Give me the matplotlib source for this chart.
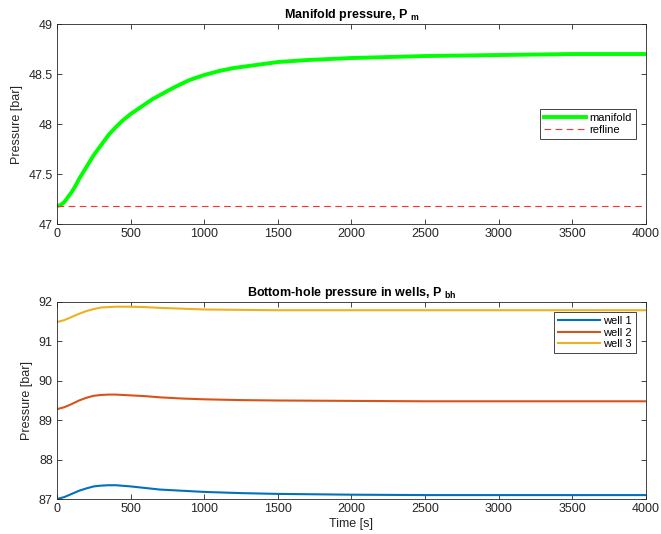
import numpy as np
import matplotlib.pyplot as plt

plt.rcParams['font.family'] = ['Liberation Sans', 'DejaVu Sans']
plt.rcParams['mathtext.fontset'] = 'custom'
plt.rcParams['mathtext.bf'] = 'Liberation Sans:bold'
plt.rcParams['mathtext.rm'] = 'Liberation Sans:bold'

# simulated manifold pressure [bar]
t_man = [0, 25, 50, 75, 100, 125, 150, 175, 200, 250, 300, 350, 400, 450, 500,
         550, 600, 650, 700, 800, 900, 1000, 1100, 1200, 1300, 1400, 1500,
         1700, 2000, 2500, 3000, 3500, 4000]
p_man = [47.18, 47.19, 47.22, 47.27, 47.32, 47.38, 47.45, 47.51, 47.57, 47.69,
         47.79, 47.89, 47.97, 48.04, 48.10, 48.15, 48.20, 48.25, 48.29, 48.37,
         48.44, 48.49, 48.53, 48.56, 48.58, 48.60, 48.62, 48.64, 48.66, 48.68,
         48.69, 48.70, 48.70]
p_ref = 47.18

# bottom-hole pressure per well [bar]
t_bh = [0, 50, 100, 150, 200, 250, 300, 350, 400, 500, 600, 700, 850, 1000,
        1250, 1500, 2000, 2500, 3000, 3500, 4000]
p_well1 = [87.00, 87.05, 87.13, 87.21, 87.27, 87.32, 87.34, 87.35, 87.35, 87.32,
           87.28, 87.24, 87.21, 87.18, 87.15, 87.13, 87.11, 87.10, 87.10, 87.10, 87.10]
p_well2 = [89.28, 89.33, 89.41, 89.50, 89.57, 89.62, 89.64, 89.65, 89.65, 89.63,
           89.61, 89.58, 89.55, 89.53, 89.51, 89.50, 89.49, 89.48, 89.48, 89.48, 89.48]
p_well3 = [91.49, 91.54, 91.62, 91.70, 91.77, 91.82, 91.86, 91.87, 91.88, 91.88,
           91.87, 91.85, 91.83, 91.81, 91.80, 91.79, 91.79, 91.79, 91.79, 91.79, 91.79]
well_names = ['well 1', 'well 2', 'well 3']
well_colors = ['#0072BD', '#D95319', '#EDB120']

axis_col = '#262626'
fs = 9


def style_axes(ax):
    ax.tick_params(direction='in', top=True, right=True, labelsize=fs,
                   colors=axis_col, length=3.5, width=0.6, pad=3)
    for s in ax.spines.values():
        s.set_color(axis_col)
        s.set_linewidth(0.6)
    ax.set_xlim(0, 4000)
    ax.set_xticks(np.arange(0, 4001, 500))


def style_legend(leg):
    leg.get_frame().set_edgecolor(axis_col)
    leg.get_frame().set_linewidth(0.6)


fig = plt.figure(figsize=(6.61, 5.34), dpi=100)

ax1 = fig.add_axes([0.0862, 0.5805, 0.891, 0.3745])
ax1.plot(t_man, p_man, color='#00FF00', lw=2.8, label='manifold')
ax1.plot([0, 4000], [p_ref, p_ref], '--', color='#FF3030', lw=0.8,
         dashes=(6, 4), label='refline')
style_axes(ax1)
ax1.set_ylim(47, 49)
ax1.set_yticks([47, 47.5, 48, 48.5, 49])
ax1.set_yticklabels(['47', '47.5', '48', '48.5', '49'])
ax1.set_ylabel('Pressure [bar]', fontsize=fs, color=axis_col, labelpad=4)
ax1.set_title(r'Manifold pressure, P $_{\mathbf{m}}$', fontsize=fs,
              fontweight='bold', pad=4)
leg1 = ax1.legend(loc='center right', fontsize=8, handlelength=3.8,
                  handletextpad=0.3, borderaxespad=0.9, fancybox=False,
                  borderpad=0.35, labelspacing=0.15, framealpha=1)
style_legend(leg1)

ax2 = fig.add_axes([0.0862, 0.0655, 0.891, 0.369])
for p, name, c in zip([p_well1, p_well2, p_well3], well_names, well_colors):
    ax2.plot(t_bh, p, color=c, lw=1.5, label=name)
style_axes(ax2)
ax2.set_ylim(87, 92)
ax2.set_yticks(np.arange(87, 93, 1))
ax2.set_ylabel('Pressure [bar]', fontsize=fs, color=axis_col, labelpad=4)
ax2.set_xlabel('Time [s]', fontsize=fs, color=axis_col, labelpad=2)
ax2.set_title(r'Bottom-hole pressure in wells, P $_{\mathbf{bh}}$', fontsize=fs,
              fontweight='bold', pad=4)
leg2 = ax2.legend(loc='upper right', fontsize=8, handlelength=3.8,
                  handletextpad=0.3, borderaxespad=0.9, fancybox=False,
                  borderpad=0.35, labelspacing=0.15, framealpha=1)
style_legend(leg2)

fig.savefig('out.png', dpi=100)
